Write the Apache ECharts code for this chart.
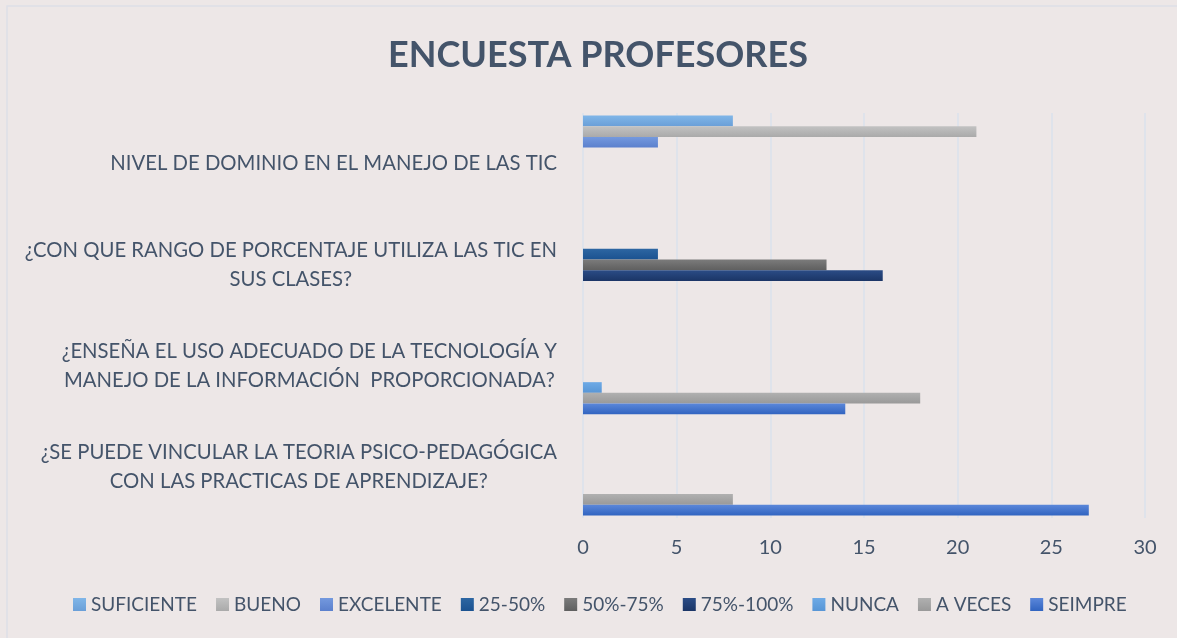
<!DOCTYPE html>
<html>
<head>
    <meta charset="utf-8">
    <title>Encuesta profesores</title>
    <script src="https://cdn.jsdelivr.net/npm/echarts@6/dist/echarts.min.js"></script>
    <style>
        html, body { margin: 0; padding: 0; background: #ede7e7; }
    </style>
</head>
<body>
    <div id="main" style="width: 1177px;height:638px;"></div>
    <script type="text/javascript">
        // preguntas, de arriba hacia abajo
        var categories = [
            'NIVEL DE DOMINIO EN EL MANEJO DE LAS TIC',
            '¿CON QUE RANGO DE PORCENTAJE UTILIZA LAS TIC EN\nSUS CLASES?',
            '¿ENSEÑA EL USO ADECUADO DE LA TECNOLOGÍA Y\nMANEJO DE LA INFORMACIÓN  PROPORCIONADA?',
            '¿SE PUEDE VINCULAR LA TEORIA PSICO-PEDAGÓGICA\nCON LAS PRACTICAS DE APRENDIZAJE?'
        ];
        var seriesNames = ['SUFICIENTE', 'BUENO', 'EXCELENTE', '25-50%', '50%-75%', '75%-100%', 'NUNCA', 'A VECES', 'SEIMPRE'];

        // valores por serie (mismo orden que categories)
        var suficiente = [8, null, null, null];
        var bueno      = [21, null, null, null];
        var excelente  = [4, null, null, null];
        var r25_50     = [null, 4, null, null];
        var r50_75     = [null, 13, null, null];
        var r75_100    = [null, 16, null, null];
        var nunca      = [null, null, 1, 0];
        var aVeces     = [null, null, 18, 8];
        var siempre    = [null, null, 14, 27];

        var xTicks = [0, 5, 10, 15, 20, 25, 30];

        var values = [suficiente, bueno, excelente, r25_50, r50_75, r75_100, nunca, aVeces, siempre];

        // colores tipo Office (claro arriba, oscuro abajo)
        var colors = [
            ['#80b6e8', '#6a9fd8'],
            ['#c2c2c2', '#aaaaaa'],
            ['#7499de', '#5b80cd'],
            ['#2d66a2', '#1b5290'],
            ['#7b7b7b', '#5f5f5f'],
            ['#2b4c86', '#1b3566'],
            ['#6eaae6', '#5896d6'],
            ['#b0b0b0', '#999999'],
            ['#5b87da', '#3164c0']
        ];

        var textColor = '#44546a';
        var dom = document.getElementById('main');
        var myChart = echarts.init(dom);

        var series = seriesNames.map(function (name, i) {
            return {
                name: name,
                type: 'bar',
                barGap: '0%',
                barCategoryGap: '5%',
                itemStyle: {
                    color: new echarts.graphic.LinearGradient(0, 0, 0, 1, [
                        { offset: 0, color: colors[i][0] },
                        { offset: 1, color: colors[i][1] }
                    ])
                },
                data: values[i]
            };
        });

        var option = {
            backgroundColor: '#ede7e7',
            animation: false,
            title: {
                text: 'ENCUESTA PROFESORES',
                left: 593,
                textAlign: 'center',
                top: 32,
                textStyle: {
                    color: textColor,
                    fontFamily: 'Lato',
                    fontWeight: 'bold',
                    fontSize: 36
                }
            },
            graphic: [{
                type: 'rect',
                shape: { x: 7, y: 6, width: 1300, height: 800 },
                style: { fill: 'none', stroke: '#dde0e8', lineWidth: 1.5 },
                silent: true
            }],
            legend: {
                data: seriesNames,
                left: 68,
                top: 590,
                icon: 'rect',
                itemWidth: 13,
                itemHeight: 13,
                itemGap: 19,
                textStyle: {
                    color: textColor,
                    fontFamily: 'Lato',
                    fontSize: 19
                }
            },
            grid: {
                left: 583,
                right: 32,
                top: 113,
                bottom: 120,
                containLabel: false
            },
            xAxis: {
                type: 'value',
                min: 0,
                max: 30,
                interval: 5,
                axisLine: { show: false },
                axisTick: { show: false },
                splitLine: { lineStyle: { color: '#dfe3eb', width: 2 } },
                axisLabel: {
                    color: textColor,
                    fontFamily: 'Lato',
                    fontSize: 20,
                    margin: 20,
                    formatter: function (v) { return xTicks.indexOf(v) >= 0 ? String(v) : ''; }
                }
            },
            yAxis: {
                type: 'category',
                inverse: true,
                data: categories,
                axisLine: { show: false },
                axisTick: { show: false },
                axisLabel: {
                    margin: 26,
                    align: 'right',
                    formatter: function (v) {
                        return v.split('\n').map(function (l) { return '{c|' + l + '}'; }).join('\n');
                    },
                    rich: {
                        c: {
                            align: 'center',
                            color: textColor,
                            fontFamily: 'Lato',
                            fontSize: 20.3,
                            lineHeight: 29
                        }
                    }
                }
            },
            series: series
        };

        myChart.setOption(option);
    </script>
</body>
</html>
